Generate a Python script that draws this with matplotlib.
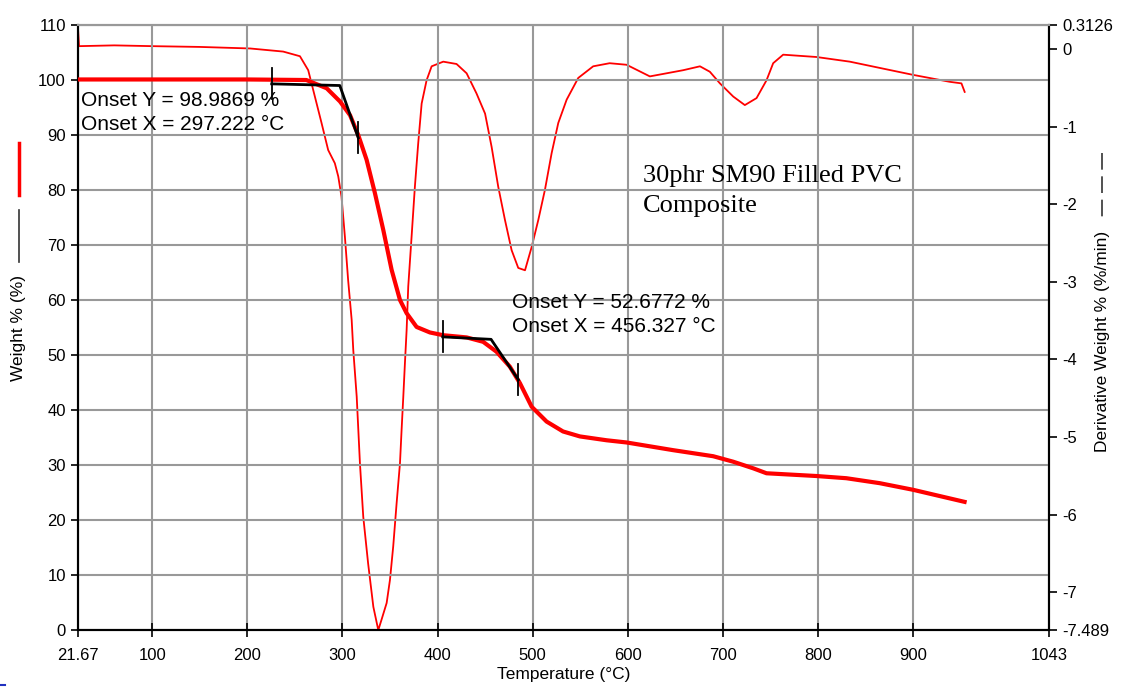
import matplotlib
matplotlib.use("Agg")
import matplotlib.pyplot as plt
from matplotlib.lines import Line2D

# TGA weight curve (left axis)
tga_temp = [21.67, 100, 200, 262, 283.4, 297.4, 308, 316.6, 325.4, 334.2, 343, 351.7,
            360.5, 367.5, 378, 392, 406, 430.6, 448, 462, 476, 486.6, 499, 514.7, 532,
            549.7, 577.8, 598.8, 647.8, 689.9, 711, 732, 746, 798.6, 830, 865, 900, 954.3]
tga_weight = [100.1, 100.1, 100.1, 100.0, 98.5, 96.1, 93.6, 90.0, 85.5, 79.4, 72.7, 65.5,
              60.0, 57.6, 55.1, 54.1, 53.6, 53.2, 52.4, 50.6, 47.9, 44.9, 40.6, 37.9, 36.1,
              35.2, 34.5, 34.1, 32.7, 31.6, 30.6, 29.4, 28.5, 28.0, 27.6, 26.7, 25.5, 23.3]

# derivative weight curve (right axis)
dtg_temp = [21.67, 23, 60, 100, 150, 203, 237.7, 255.3, 264, 271, 278, 285, 292, 295.6,
            299, 302.6, 306, 309.7, 311.4, 315, 318.4, 321.9, 327, 332.5, 337.7, 341,
            346.5, 350, 353.4, 357, 360.5, 362.2, 364, 365.7, 367.5, 369.2, 372.7, 376.2,
            379.7, 383.3, 388.5, 393.8, 406, 420, 430.6, 441, 450, 456.9, 463.8, 470.9,
            477.9, 484.9, 492, 499, 506, 513, 520, 527, 535.8, 548, 563.7, 581, 598.8,
            623.3, 640.9, 658.4, 676, 686.4, 697, 711, 723.2, 735.5, 746, 753, 763.5,
            798.6, 833.6, 868.7, 900, 938.8, 951, 954.4]
dtg_value = [0.31, 0.04, 0.05, 0.04, 0.03, 0.01, -0.03, -0.09, -0.27, -0.61, -0.95, -1.30,
             -1.47, -1.64, -1.90, -2.42, -2.98, -3.49, -3.88, -4.48, -5.34, -6.03, -6.63,
             -7.19, -7.49, -7.36, -7.14, -6.84, -6.41, -5.85, -5.34, -4.91, -4.48, -4.05,
             -3.62, -3.06, -2.42, -1.77, -1.21, -0.70, -0.40, -0.22, -0.16, -0.19, -0.31,
             -0.57, -0.83, -1.26, -1.77, -2.20, -2.59, -2.82, -2.85, -2.55, -2.20, -1.81,
             -1.34, -0.95, -0.65, -0.37, -0.22, -0.18, -0.20, -0.35, -0.31, -0.27, -0.22,
             -0.29, -0.44, -0.61, -0.72, -0.63, -0.40, -0.18, -0.07, -0.10, -0.16, -0.25,
             -0.33, -0.42, -0.44, -0.55]

# onset tangent constructions
onset1_temp = [225.6, 297.2, 316.6]
onset1_weight = [99.3, 99.0, 89.5]
onset1_marks = [225.6, 316.6]
onset2_temp = [405.5, 456.3, 485.0]
onset2_weight = [53.3, 52.85, 45.5]
onset2_marks = [405.5, 485.0]

x_ticks = [21.67, 100, 200, 300, 400, 500, 600, 700, 800, 900, 1043]
x_labels = ["21.67", "100", "200", "300", "400", "500", "600", "700", "800", "900", "1043"]
y_ticks = list(range(0, 111, 10))
r_ticks = [0.3126, 0, -1, -2, -3, -4, -5, -6, -7, -7.489]
r_labels = ["0.3126", "0", "-1", "-2", "-3", "-4", "-5", "-6", "-7", "-7.489"]

plt.rcParams["font.family"] = ["Liberation Sans", "DejaVu Sans"]

fig = plt.figure(figsize=(11.21, 6.89), dpi=100)
ax = fig.add_axes([0.0694, 0.0856, 0.8663, 0.8781])
ax2 = ax.twinx()

grid_c = "#999999"
ax.set_xlim(21.67, 1043)
ax.set_ylim(0, 110)
ax2.set_ylim(-7.489, 0.3126)
ax.set_xticks(x_ticks)
ax.set_xticklabels(x_labels)
ax.set_yticks(y_ticks)
ax2.set_yticks(r_ticks)
ax2.set_yticklabels(r_labels)
ax.grid(True, color=grid_c, linewidth=1.5)
ax.set_axisbelow(True)

for a in (ax, ax2):
    a.spines["top"].set_color(grid_c)
    a.spines["top"].set_linewidth(1.5)
    for s in ("left", "right", "bottom"):
        a.spines[s].set_color("black")
        a.spines[s].set_linewidth(1.5)

ax.tick_params(axis="x", direction="inout", length=10, width=1.2, labelsize=12, pad=8)
ax.tick_params(axis="y", direction="out", length=5, width=1.2, labelsize=12)
ax2.tick_params(axis="y", direction="out", length=6, width=1.2, labelsize=12)

ax2.plot(dtg_temp, dtg_value, color="red", linewidth=1.3, zorder=2)
ax.plot(tga_temp, tga_weight, color="red", linewidth=3, zorder=3)
ax.set_zorder(ax2.get_zorder() + 1)
ax.patch.set_visible(False)

# onset lines
ax.plot(onset1_temp, onset1_weight, color="black", linewidth=2, zorder=4)
ax.plot(onset2_temp, onset2_weight, color="black", linewidth=2, zorder=4)
for t, w in zip(onset1_marks, [onset1_weight[0], onset1_weight[2]]):
    ax.plot([t, t], [w - 2.8, w + 2.8], color="black", linewidth=1.3, zorder=4)
for t, w in zip(onset2_marks, [onset2_weight[0], onset2_weight[2]]):
    ax.plot([t, t], [w - 2.8, w + 2.8], color="black", linewidth=1.3, zorder=4)

ax.text(25, 94.1, "Onset Y = 98.9869 %\nOnset X = 297.222 °C", fontsize=15,
        va="center", ha="left", linespacing=1.3, zorder=5)
ax.text(478, 57.4, "Onset Y = 52.6772 %\nOnset X = 456.327 °C", fontsize=15,
        va="center", ha="left", linespacing=1.3, zorder=5)
ax.text(616, 79.8, "30phr SM90 Filled PVC\nComposite", fontsize=19,
        family="Liberation Serif", va="center", ha="left", linespacing=1.45, zorder=5)

ax.set_xlabel("Temperature (°C)", fontsize=12.5, labelpad=3)

# axis labels with legend strokes
fig.text(19 / 1121, 1 - 328 / 689, "Weight % (%)", rotation=90, fontsize=12.5,
         ha="center", va="center")
fig.add_artist(Line2D([19 / 1121] * 2, [1 - 143 / 689, 1 - 195 / 689], color="red", linewidth=2.5))
fig.add_artist(Line2D([19 / 1121] * 2, [1 - 210 / 689, 1 - 262 / 689], color="#333333", linewidth=1.2))

fig.text(1102 / 1121, 1 - 341 / 689, "Derivative Weight % (%/min)", rotation=90, fontsize=12.5,
         ha="center", va="center")
fig.add_artist(Line2D([1102 / 1121] * 2, [1 - 153 / 689, 1 - 222 / 689], color="#333333",
                      linewidth=1.2, linestyle=(0, (10, 4))))
fig.add_artist(Line2D([0, 5 / 1121], [1 - 685 / 689] * 2, color="#2030c0", linewidth=1.5))

fig.savefig("out.png", dpi=100)
plt.close(fig)
